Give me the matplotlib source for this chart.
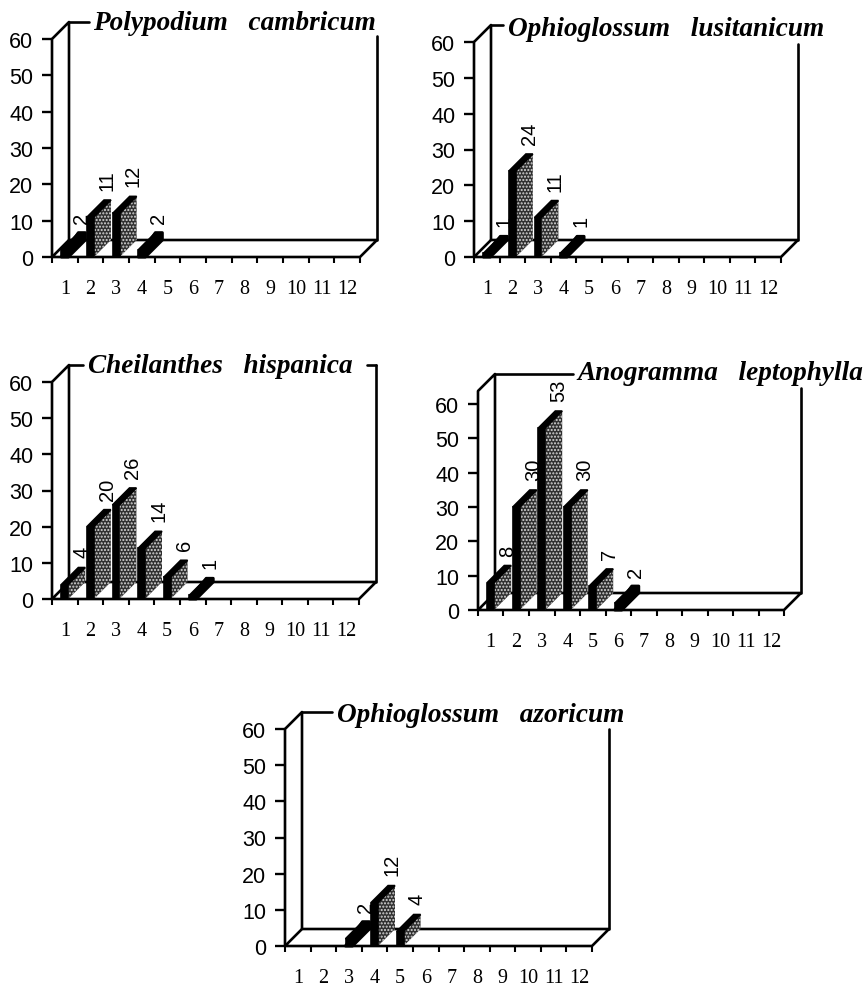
import matplotlib
matplotlib.use("Agg")
import matplotlib.pyplot as plt
from matplotlib.ticker import FixedLocator, NullFormatter

W, H = 864, 987
DEPTH_PX = 17
BAR_W = 0.27
SANS = "Liberation Sans"
SERIF = "Liberation Serif"

CATEGORIES = list(range(1, 13))
Y_TICKS = [0, 10, 20, 30, 40, 50, 60]

polypodium = [2, 11, 12, 2, 0, 0, 0, 0, 0, 0, 0, 0]
lusitanicum = [1, 24, 11, 1, 0, 0, 0, 0, 0, 0, 0, 0]
cheilanthes = [4, 20, 26, 14, 6, 1, 0, 0, 0, 0, 0, 0]
anogramma = [8, 30, 53, 30, 7, 2, 0, 0, 0, 0, 0, 0]
azoricum = [0, 0, 2, 12, 4, 0, 0, 0, 0, 0, 0, 0]

# all in pixels: axis box, left wall top, right wall top, title position, top line end, dash start
PANELS = [
    ("Polypodium   cambricum", polypodium, 52, 360, 258, 40, 40, 37, 93, 23, 89, None),
    ("Ophioglossum   lusitanicum", lusitanicum, 474, 781, 258, 43, 43, 45, 508, 29, 503, None),
    ("Cheilanthes   hispanica", cheilanthes, 52, 359, 600, 383, 383, 366, 88, 367, 83, 367),
    ("Anogramma   leptophylla", anogramma, 478, 784, 611, 405, 392, 389, 577, 374, 573, None),
    ("Ophioglossum   azoricum", azoricum, 285, 592, 947, 730, 730, 730, 337, 716, 332, None),
]


def draw_panel(fig, title, values, x0, xend, y0, y60, wall_top, right_top, title_x, title_y, line_end, dash):
    ax = fig.add_axes([x0 / W, 1 - y0 / H, (xend - x0) / W, (y0 - y60) / H])
    ax.set_xlim(0, 12)
    ax.set_ylim(0, 60)
    ax.patch.set_visible(False)
    for s in ax.spines.values():
        s.set_visible(False)

    to_x = 12 / (xend - x0)
    to_y = 60 / (y0 - y60)
    dx = DEPTH_PX * to_x
    dy = DEPTH_PX * to_y
    top = (y0 - wall_top) * to_y
    back_right = (y0 - right_top) * to_y
    line_x = (line_end - x0) * to_x

    # walls and floor
    line = dict(color="black", lw=1.9, clip_on=False, zorder=2, solid_capstyle="round")
    ax.plot([0, 12, 12 + dx, dx, 0], [0, 0, dy, dy, 0], **line)
    ax.plot([0, 0, dx, dx], [0, top, top + dy, dy], **line)
    ax.plot([dx, line_x], [top + dy, top + dy], **line)
    ax.plot([12 + dx, 12 + dx], [dy, back_right], **line)
    if dash:
        ax.plot([(dash - x0) * to_x, 12 + dx], [back_right, back_right], **line)

    # bars
    for cat, val in zip(CATEGORIES, values):
        if val == 0:
            continue
        left = cat - 0.5 - BAR_W / 2
        right = cat - 0.5 + BAR_W / 2
        if val > 2:
            ax.fill([right, right + dx, right + dx, right], [0, dy, val + dy, val],
                    facecolor="#303030", edgecolor="#d8d8d8", hatch=".....", lw=0,
                    clip_on=False, zorder=3)
        else:
            # very low bars read as a solid black band
            ax.fill([left, right, right + dx, right + dx, left + dx], [0, 0, dy, val + dy, val + dy],
                    color="black", lw=2.2, joinstyle="round", clip_on=False, zorder=4)
        ax.fill([left, right, right + dx, left + dx], [val, val, val + dy, val + dy],
                color="black", lw=1.2, clip_on=False, zorder=4)
        ax.fill([left, right, right, left], [0, 0, val, val],
                color="black", lw=1.2, clip_on=False, zorder=4)
        ax.text(cat - 0.5 + dx, val + dy + 2.8, str(val), rotation=90, ha="center",
                va="bottom", family=SANS, fontsize=14.5, color="black", zorder=1)

    ax.set_yticks(Y_TICKS)
    ax.set_yticklabels([str(v) for v in Y_TICKS], family=SANS, fontsize=15.5)
    ax.tick_params(axis="y", length=7, width=1.7, pad=6.5)
    ax.xaxis.set_major_locator(FixedLocator(range(13)))
    ax.xaxis.set_major_formatter(NullFormatter())
    ax.set_xticks([c - 0.5 for c in CATEGORIES], [str(c) for c in CATEGORIES],
                  minor=True, family=SERIF, fontsize=14.5)
    ax.tick_params(axis="x", which="major", length=4, width=1.5)
    ax.tick_params(axis="x", which="minor", length=0, pad=16)

    fig.text(title_x / W, 1 - title_y / H, title, family=SERIF, style="italic",
             weight="bold", fontsize=19.6, va="center", ha="left")


fig = plt.figure(figsize=(W / 100, H / 100), dpi=100)
for p in PANELS:
    draw_panel(fig, *p)
fig.savefig("out.png", dpi=100)
